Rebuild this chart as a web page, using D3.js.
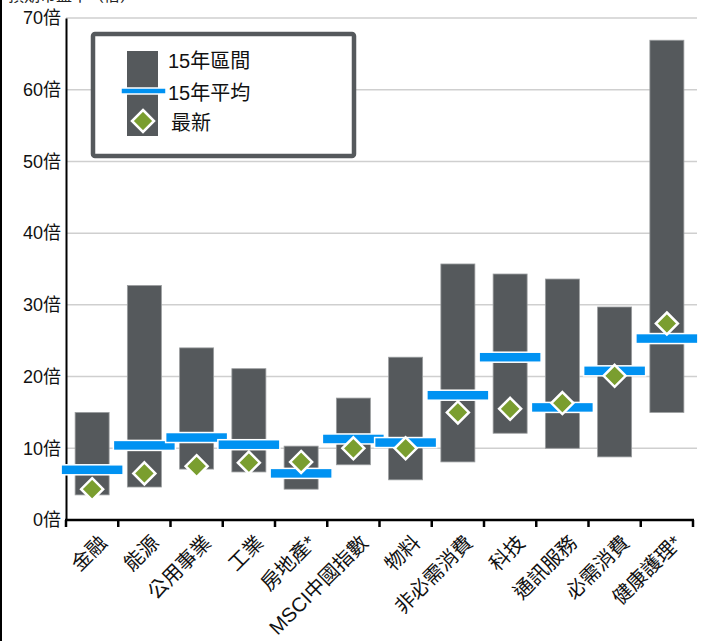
<!DOCTYPE html>
<html>
<head>
<meta charset="utf-8">
<script src="https://cdn.jsdelivr.net/npm/d3@7"></script>
<style>
  body { margin: 0; background: #fff; }
  svg { display: block; font-family: "Liberation Sans", "Noto Sans CJK TC", sans-serif; }
</style>
</head>
<body>
<div id="chart"></div>
<script>
// sector valuation ranges, 15y
const sectors = ["金融", "能源", "公用事業", "工業", "房地產*", "MSCI中國指數", "物料", "非必需消費", "科技", "通訊服務", "必需消費", "健康護理*"];
const rangeLow  = [3.5, 4.6, 7.1, 6.7, 4.3, 7.7, 5.6, 8.1, 12.1, 10.0, 8.8, 15.0];
const rangeHigh = [15.0, 32.7, 24.0, 21.1, 10.3, 17.0, 22.7, 35.7, 34.3, 33.6, 29.7, 66.9];
const avg15     = [7.0, 10.4, 11.5, 10.5, 6.5, 11.3, 10.8, 17.4, 22.7, 15.7, 20.8, 25.3];
const latest    = [4.3, 6.5, 7.5, 8.0, 8.1, 10.0, 10.0, 15.0, 15.5, 16.3, 20.1, 27.4];
const yTicks = [0, 10, 20, 30, 40, 50, 60, 70];
const legendLabels = ["15年區間", "15年平均", "最新"];

const W = 701, H = 641;
const mLeft = 66, mRight = 693, mTop = 18, mBottom = 520;

const barColor = "#55595c", blue = "#0092f2", green = "#7a9e2f";

const svg = d3.select("#chart").append("svg")
    .attr("width", W)
    .attr("height", H);

const x = d3.scaleBand().domain(sectors).range([mLeft, mRight]);
const y = d3.scaleLinear().domain([0, 70]).range([mBottom, mTop]);

// title, mostly cut off by the top edge like the source
svg.append("text")
    .attr("x", 8).attr("y", 1)
    .attr("font-size", 16)
    .attr("fill", "#222")
    .text("預期市盈率（倍）");

// frame line on the left edge
svg.append("line")
    .attr("x1", 1).attr("x2", 1)
    .attr("y1", 0).attr("y2", H)
    .attr("stroke", "#000").attr("stroke-width", 2);

// gridlines
svg.append("g")
    .selectAll("line")
    .data(yTicks.filter(d => d > 0))
    .enter().append("line")
    .attr("x1", mLeft).attr("x2", 697)
    .attr("y1", d => y(d)).attr("y2", d => y(d))
    .attr("stroke", "#cfcfcf").attr("stroke-width", 1.5);

// y axis
const yAxis = svg.append("g")
    .attr("transform", `translate(${mLeft},0)`)
    .call(d3.axisLeft(y).tickValues(yTicks).tickSize(0).tickPadding(5).tickFormat(d => d + "倍"));
yAxis.select(".domain").attr("stroke", "#000").attr("stroke-width", 2);
yAxis.selectAll("text")
    .attr("font-size", 18)
    .attr("fill", "#111")
    .attr("font-family", "'Liberation Sans', 'Noto Sans CJK TC', sans-serif");

// x axis: ticks on band edges
const xAxis = svg.append("g").attr("transform", `translate(0,${mBottom})`);
xAxis.append("line")
    .attr("x1", mLeft - 1).attr("x2", mRight + 1)
    .attr("stroke", "#000").attr("stroke-width", 2.5);
const edges = sectors.map(d => x(d)).concat([mRight]);
xAxis.selectAll("line.tick")
    .data(edges)
    .enter().append("line")
    .attr("class", "tick")
    .attr("x1", d => d).attr("x2", d => d)
    .attr("y1", 0).attr("y2", 7)
    .attr("stroke", "#000").attr("stroke-width", 2.5);

xAxis.selectAll("text")
    .data(sectors)
    .enter().append("text")
    .attr("transform", d => `translate(${x(d) + x.bandwidth() / 2 + 16},${24}) rotate(-45)`)
    .attr("text-anchor", "end")
    .attr("font-size", 20)
    .attr("fill", "#111")
    .text(d => d);

const bw = 34, aw = 62, ah = 10, dr = 11;
const cx = i => x(sectors[i]) + x.bandwidth() / 2;

// range bars
svg.append("g")
    .selectAll("rect")
    .data(sectors)
    .enter().append("rect")
    .attr("x", (d, i) => cx(i) - bw / 2)
    .attr("y", (d, i) => y(rangeHigh[i]))
    .attr("width", bw)
    .attr("height", (d, i) => y(rangeLow[i]) - y(rangeHigh[i]))
    .attr("fill", barColor)
    .attr("stroke", "#9a9d9f")
    .attr("stroke-width", 0.8);

// 15y average
svg.append("g")
    .selectAll("rect")
    .data(sectors)
    .enter().append("rect")
    .attr("x", (d, i) => cx(i) - aw / 2)
    .attr("y", (d, i) => y(avg15[i]) - ah / 2)
    .attr("width", aw)
    .attr("height", ah)
    .attr("fill", blue)
    .attr("stroke", "#fff")
    .attr("stroke-width", 1.5);

// latest
const diamond = r => `M0,${-r}L${r},0L0,${r}L${-r},0Z`;
svg.append("g")
    .selectAll("path")
    .data(sectors)
    .enter().append("path")
    .attr("transform", (d, i) => `translate(${cx(i)},${y(latest[i])})`)
    .attr("d", diamond(dr))
    .attr("fill", green)
    .attr("stroke", "#fff")
    .attr("stroke-width", 2.5)
    .attr("stroke-linejoin", "miter");

// legend
const lg = svg.append("g");
lg.append("rect")
    .attr("x", 93).attr("y", 34)
    .attr("width", 261).attr("height", 122)
    .attr("rx", 2)
    .attr("fill", "#fff")
    .attr("stroke", barColor)
    .attr("stroke-width", 4.5);
lg.append("rect")
    .attr("x", 127).attr("y", 51)
    .attr("width", 31).attr("height", 85)
    .attr("fill", barColor);
lg.append("rect")
    .attr("x", 121).attr("y", 88)
    .attr("width", 45).attr("height", 6)
    .attr("fill", blue)
    .attr("stroke", "#fff").attr("stroke-width", 1.5);
lg.append("path")
    .attr("transform", "translate(143,121)")
    .attr("d", diamond(11))
    .attr("fill", green)
    .attr("stroke", "#fff").attr("stroke-width", 2.5);
lg.selectAll("text.lab")
    .data(legendLabels)
    .enter().append("text")
    .attr("class", "lab")
    .attr("x", (d, i) => i === 2 ? 171 : 168)
    .attr("y", (d, i) => [68, 100, 130][i])
    .attr("font-size", 20)
    .attr("fill", "#111")
    .text(d => d);
</script>
</body>
</html>
